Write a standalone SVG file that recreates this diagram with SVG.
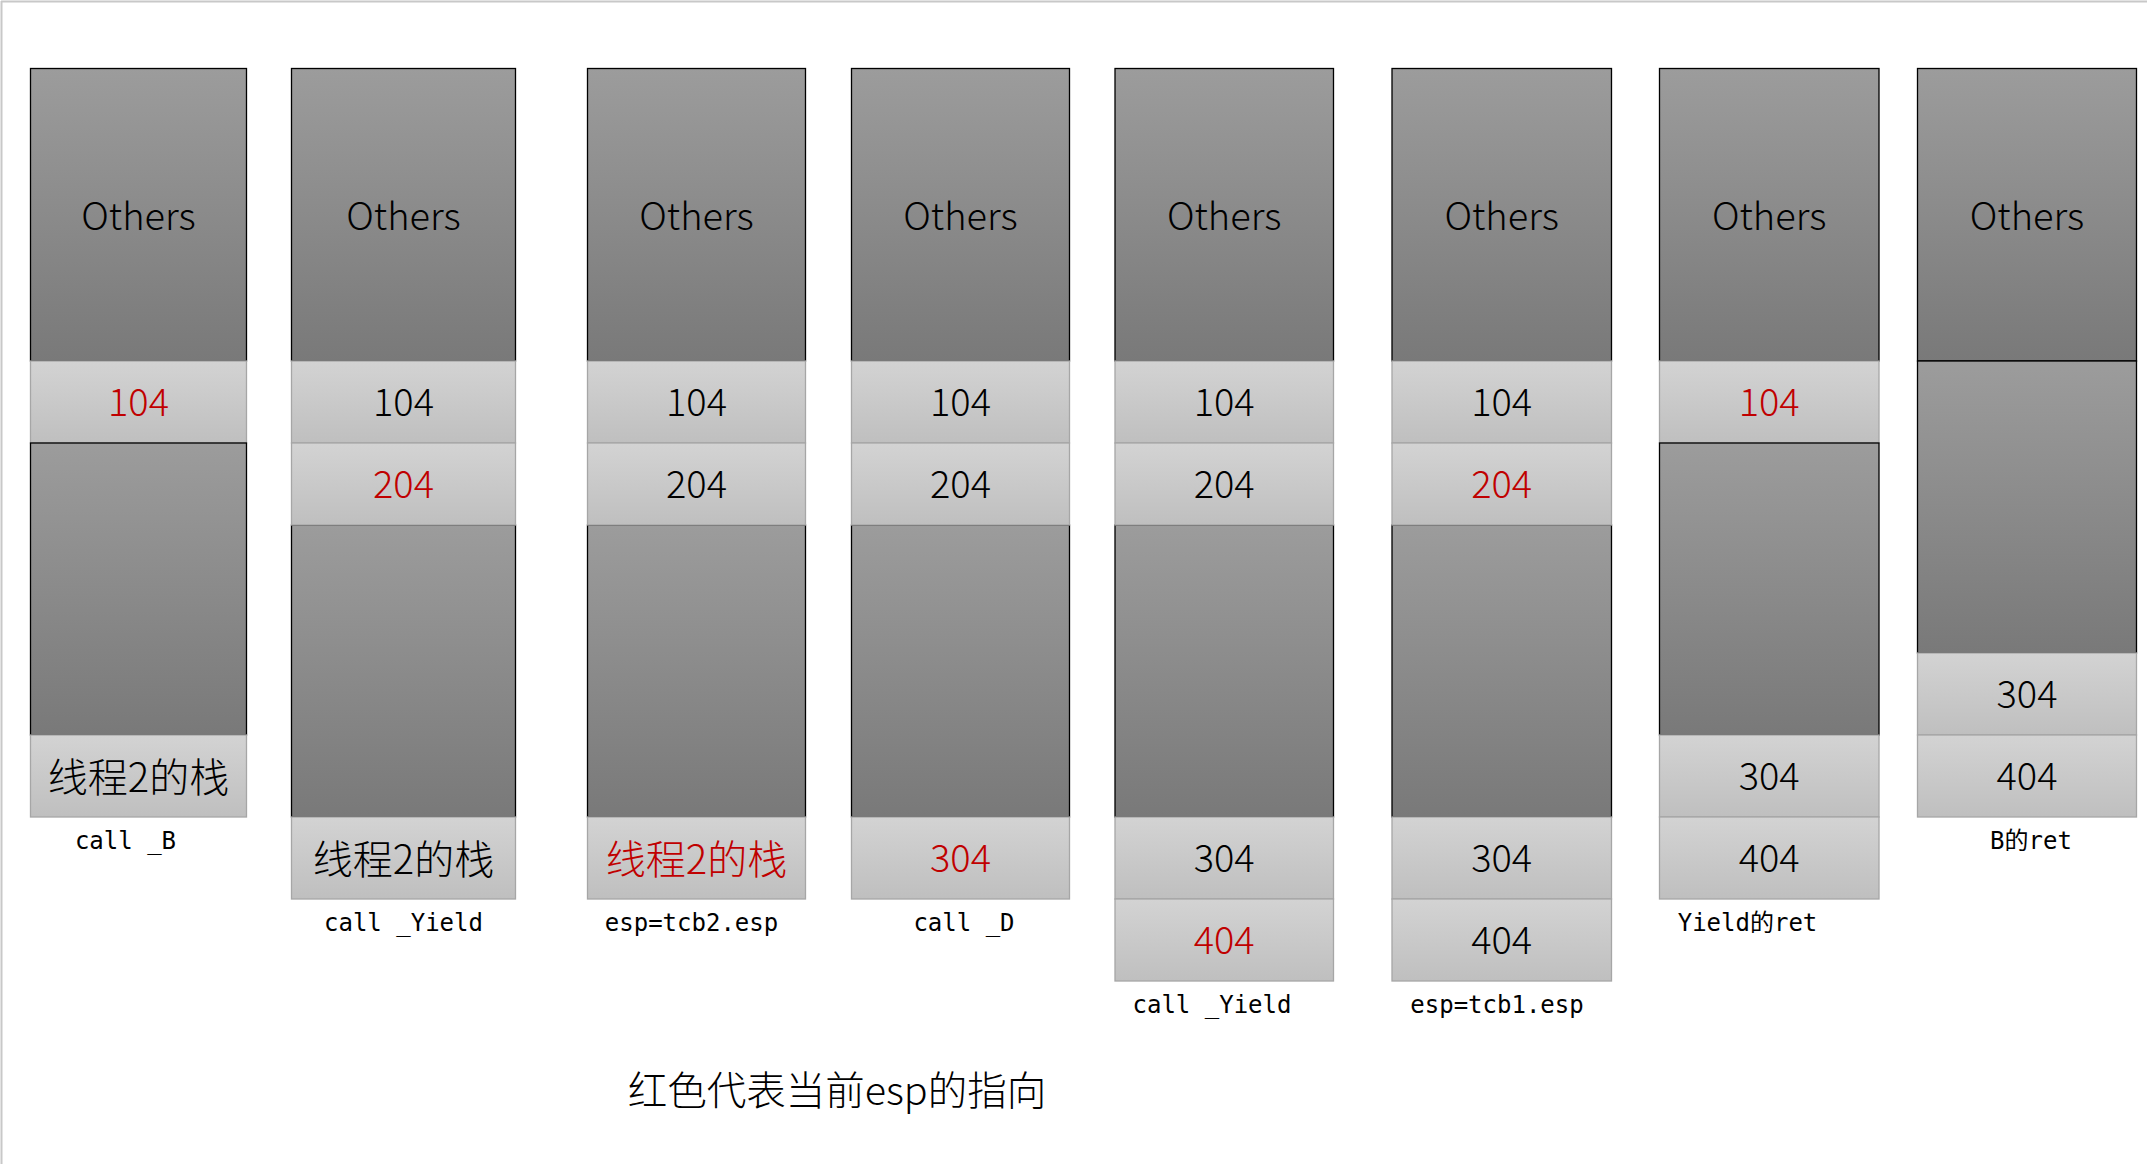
<svg xmlns="http://www.w3.org/2000/svg" width="2147" height="1164" viewBox="0 0 2147 1164">
<defs>
<linearGradient id="gDark" x1="0" y1="0" x2="0" y2="1">
<stop offset="0" stop-color="#9c9c9c"/>
<stop offset="1" stop-color="#797979"/>
</linearGradient>
<linearGradient id="gLight" x1="0" y1="0" x2="0" y2="1">
<stop offset="0" stop-color="#d3d3d3"/>
<stop offset="1" stop-color="#bfbfbf"/>
</linearGradient>
</defs>
<style>
.dark{fill:url(#gDark);stroke:#000;stroke-width:1.3}
.cell{fill:url(#gLight);stroke:#a6a6a6;stroke-width:1.3}
.t{font-family:"Noto Sans CJK SC","Noto Sans",sans-serif;font-weight:300;font-size:38px;text-anchor:middle;fill:#000}
.zh{font-size:40px}
.red{fill:#c00000}
.lbl{font-family:"DejaVu Sans Mono","Noto Sans CJK SC",monospace;font-size:24px;text-anchor:middle;fill:#000}
.cap{font-family:"Noto Sans CJK SC",sans-serif;font-weight:300;font-size:39.5px;text-anchor:middle;fill:#000}
</style>
<rect x="0" y="0" width="2147" height="1164" fill="#fff"/>
<line x1="1" y1="1.5" x2="2147" y2="1.5" stroke="#c8c8c8" stroke-width="2"/>
<line x1="1.5" y1="1" x2="1.5" y2="1164" stroke="#c8c8c8" stroke-width="2"/>

<g id="stack1">
<rect class="dark" x="30.5" y="68.5" width="216" height="292.5"/>
<text class="t" x="138.5" y="230">Others</text>
<rect class="cell" x="30.5" y="361" width="216" height="82"/>
<text class="t red" x="138.5" y="416">104</text>
<rect class="dark" x="30.5" y="443" width="216" height="292"/>
<rect class="cell" x="30.5" y="735" width="216" height="82"/>
<text class="t zh" x="138.5" y="792">线程2的栈</text>
<text class="lbl" x="125.5" y="849">call _B</text>
</g>

<g id="stack2">
<rect class="dark" x="291.5" y="68.5" width="224" height="292.5"/>
<text class="t" x="403.5" y="230">Others</text>
<rect class="dark" x="291.5" y="525" width="224" height="292"/>
<rect class="cell" x="291.5" y="361" width="224" height="82"/>
<text class="t" x="403.5" y="416">104</text>
<rect class="cell" x="291.5" y="443" width="224" height="82"/>
<text class="t red" x="403.5" y="498">204</text>
<rect class="cell" x="291.5" y="817" width="224" height="82"/>
<text class="t zh" x="403.5" y="874">线程2的栈</text>
<text class="lbl" x="403.5" y="931">call _Yield</text>
</g>

<g id="stack3">
<rect class="dark" x="587.5" y="68.5" width="218" height="292.5"/>
<text class="t" x="696.5" y="230">Others</text>
<rect class="dark" x="587.5" y="525" width="218" height="292"/>
<rect class="cell" x="587.5" y="361" width="218" height="82"/>
<text class="t" x="696.5" y="416">104</text>
<rect class="cell" x="587.5" y="443" width="218" height="82"/>
<text class="t" x="696.5" y="498">204</text>
<rect class="cell" x="587.5" y="817" width="218" height="82"/>
<text class="t zh red" x="696.5" y="874">线程2的栈</text>
<text class="lbl" x="691.5" y="931">esp=tcb2.esp</text>
</g>

<g id="stack4">
<rect class="dark" x="851.5" y="68.5" width="218" height="292.5"/>
<text class="t" x="960.5" y="230">Others</text>
<rect class="dark" x="851.5" y="525" width="218" height="292"/>
<rect class="cell" x="851.5" y="361" width="218" height="82"/>
<text class="t" x="960.5" y="416">104</text>
<rect class="cell" x="851.5" y="443" width="218" height="82"/>
<text class="t" x="960.5" y="498">204</text>
<rect class="cell" x="851.5" y="817" width="218" height="82"/>
<text class="t red" x="960.5" y="872">304</text>
<text class="lbl" x="964" y="931">call _D</text>
</g>

<g id="stack5">
<rect class="dark" x="1115" y="68.5" width="218.5" height="292.5"/>
<text class="t" x="1224.2" y="230">Others</text>
<rect class="dark" x="1115" y="525" width="218.5" height="292"/>
<rect class="cell" x="1115" y="361" width="218.5" height="82"/>
<text class="t" x="1224.2" y="416">104</text>
<rect class="cell" x="1115" y="443" width="218.5" height="82"/>
<text class="t" x="1224.2" y="498">204</text>
<rect class="cell" x="1115" y="817" width="218.5" height="82"/>
<text class="t" x="1224.2" y="872">304</text>
<rect class="cell" x="1115" y="899" width="218.5" height="82"/>
<text class="t red" x="1224.2" y="954">404</text>
<text class="lbl" x="1212" y="1013">call _Yield</text>
</g>

<g id="stack6">
<rect class="dark" x="1392" y="68.5" width="219.5" height="292.5"/>
<text class="t" x="1501.7" y="230">Others</text>
<rect class="dark" x="1392" y="525" width="219.5" height="292"/>
<rect class="cell" x="1392" y="361" width="219.5" height="82"/>
<text class="t" x="1501.7" y="416">104</text>
<rect class="cell" x="1392" y="443" width="219.5" height="82"/>
<text class="t red" x="1501.7" y="498">204</text>
<rect class="cell" x="1392" y="817" width="219.5" height="82"/>
<text class="t" x="1501.7" y="872">304</text>
<rect class="cell" x="1392" y="899" width="219.5" height="82"/>
<text class="t" x="1501.7" y="954">404</text>
<text class="lbl" x="1497" y="1013">esp=tcb1.esp</text>
</g>

<g id="stack7">
<rect class="dark" x="1659.5" y="68.5" width="219.5" height="292.5"/>
<text class="t" x="1769.2" y="230">Others</text>
<rect class="cell" x="1659.5" y="361" width="219.5" height="82"/>
<text class="t red" x="1769.2" y="416">104</text>
<rect class="dark" x="1659.5" y="443" width="219.5" height="292"/>
<rect class="cell" x="1659.5" y="735" width="219.5" height="82"/>
<text class="t" x="1769.2" y="790">304</text>
<rect class="cell" x="1659.5" y="817" width="219.5" height="82"/>
<text class="t" x="1769.2" y="872">404</text>
<text class="lbl" x="1747.5" y="931">Yield的ret</text>
</g>

<g id="stack8">
<rect class="dark" x="1917.5" y="68.5" width="219" height="292.5"/>
<text class="t" x="2027" y="230">Others</text>
<rect class="dark" x="1917.5" y="361" width="219" height="292"/>
<rect class="cell" x="1917.5" y="653" width="219" height="82"/>
<text class="t" x="2027" y="708">304</text>
<rect class="cell" x="1917.5" y="735" width="219" height="82"/>
<text class="t" x="2027" y="790">404</text>
<text class="lbl" x="2031" y="849">B的ret</text>
</g>

<g id="connectors"/>

<g id="caption">
<text class="cap" x="837" y="1105">红色代表当前esp的指向</text>
</g>
</svg>
